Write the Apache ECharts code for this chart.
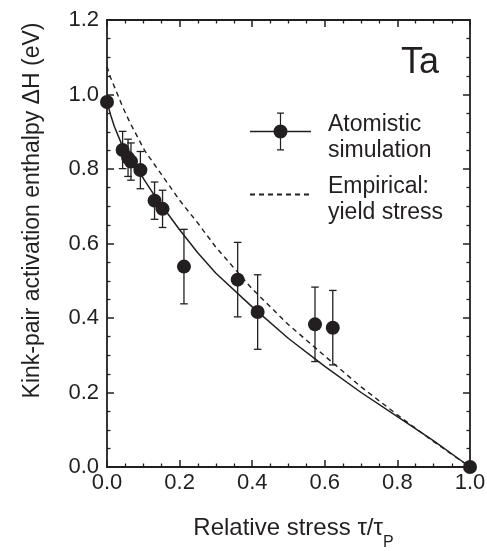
<!DOCTYPE html>
<html>
<head>
<meta charset="utf-8">
<script src="https://cdn.jsdelivr.net/npm/echarts@6/dist/echarts.min.js"></script>
<style>
html,body{margin:0;padding:0;background:#fff;}
#c{width:487px;height:551px;}
</style>
</head>
<body>
<div id="c"></div>
<script>
// ---- data ----
const simX   = [0, 0.043, 0.058, 0.066, 0.092, 0.131, 0.153, 0.212, 0.36, 0.415, 0.573, 0.622, 1.0];
const simY   = [0.98, 0.851, 0.83, 0.82, 0.797, 0.715, 0.693, 0.538, 0.503, 0.416, 0.383, 0.374, 0.0];
const simErr = [0, 0.05, 0.05, 0.05, 0.05, 0.05, 0.05, 0.1, 0.1, 0.1, 0.1, 0.1, 0];

const fitX = [0, 0.01, 0.02, 0.043, 0.07, 0.1, 0.13, 0.16, 0.2, 0.25, 0.3, 0.4, 0.5, 0.6, 0.7, 0.8, 0.9, 1.0];
const fitY = [0.98, 0.945, 0.915, 0.86, 0.815, 0.775, 0.73, 0.69, 0.637, 0.575, 0.52, 0.43, 0.345, 0.27, 0.2, 0.135, 0.07, 0];

const empX = [0, 0.01, 0.044, 0.063, 0.104, 0.159, 0.2, 0.25, 0.3, 0.4, 0.5, 0.6, 0.7, 0.8, 0.9, 1.0];
const empY = [1.075, 1.045, 0.965, 0.925, 0.849, 0.773, 0.716, 0.655, 0.59, 0.478, 0.382, 0.298, 0.215, 0.14, 0.068, 0];

const xTicks = [0, 0.2, 0.4, 0.6, 0.8, 1.0];
const yTicks = [0, 0.2, 0.4, 0.6, 0.8, 1.0, 1.2];

const seriesNames = ['Atomistic simulation', 'Empirical: yield stress'];
const legendLabels = ['{g1| }\n{t|Atomistic}\n{t|simulation}', '{g2| }\n{t|Empirical:}\n{t|yield stress}'];

// ---- chart ----
const INK = '#231f20';
const FONT = '"Liberation Sans", Arial, Helvetica, sans-serif';
const chart = echarts.init(document.getElementById('c'), null, {renderer: 'canvas'});

const pts = simX.map((x, i) => [x, simY[i]]);
const errs = simX.map((x, i) => [x, simY[i] - simErr[i], simY[i] + simErr[i], simErr[i]]).filter(d => d[3] > 0);
const fit = fitX.map((x, i) => [x, fitY[i]]);
const emp = empX.map((x, i) => [x, empY[i]]);

const axisLine = {show: true, onZero: false, lineStyle: {color: INK, width: 1.8}};
const axisTick = {show: true, inside: true, length: 7, lineStyle: {color: INK, width: 1.5}};
const minorTick = {show: true, splitNumber: 4, length: 3.5, lineStyle: {color: INK, width: 1.3}};
const labelStyle = {color: INK, fontSize: 22, fontFamily: FONT};

const legendIconSim = 'path://M0,18.25 H61 V19.75 H0 Z M29.9,0 H31.1 V38 H29.9 Z M27,0 H34 V1.2 H27 Z M27,36.8 H34 V38 H27 Z M37.5,19 A7,7 0 1,1 23.5,19 A7,7 0 1,1 37.5,19 Z';

chart.setOption({
  animation: false,
  backgroundColor: '#fff',
  grid: {left: 107, right: 17, top: 20, bottom: 84, containLabel: false, outerBoundsMode: 'none'},
  xAxis: [{
    type: 'value', min: 0, max: 1, interval: 0.2, position: 'bottom',
    axisLine, axisTick, minorTick, splitLine: {show: false},
    axisLabel: {...labelStyle, margin: 5, formatter: v => xTicks.includes(+v.toFixed(1)) ? v.toFixed(1) : ''},
    name: '{m|Relative stress \u03c4/\u03c4}{s|P}',
    nameLocation: 'middle', nameGap: 39,
    nameTextStyle: {color: INK, fontSize: 24, fontFamily: FONT, padding: [0, 0, 0, 10],
      rich: {
        m: {fontSize: 24, fontFamily: FONT, color: INK},
        s: {fontSize: 16, fontFamily: FONT, color: INK, padding: [29, 0, 0, 0]}
      }}
  }, {
    type: 'value', min: 0, max: 1, interval: 0.2, position: 'top',
    axisLine, axisTick, minorTick, splitLine: {show: false}, axisLabel: {show: false}
  }],
  yAxis: [{
    type: 'value', min: 0, max: 1.2, interval: 0.2, position: 'left',
    axisLine, axisTick, minorTick, splitLine: {show: false},
    axisLabel: {...labelStyle, margin: 8, formatter: v => yTicks.includes(+v.toFixed(1)) ? v.toFixed(1) : ''},
    name: 'Kink-pair activation enthalpy \u0394H (eV)',
    nameLocation: 'middle', nameGap: 63, nameRotate: 90,
    nameTextStyle: {color: INK, fontSize: 23, fontFamily: FONT, padding: [0, 0, 0, 66]}
  }, {
    type: 'value', min: 0, max: 1.2, interval: 0.2, position: 'right',
    axisLine, axisTick, minorTick, splitLine: {show: false}, axisLabel: {show: false}
  }],
  legend: {
    orient: 'vertical', left: 249, top: 103.5, padding: 0, itemGap: 3.9,
    itemWidth: 61, itemHeight: 38, selectedMode: false,
    formatter: n => legendLabels[seriesNames.indexOf(n)],
    textStyle: {
      color: INK, fontSize: 23, fontFamily: FONT, padding: [0, 0, 0, 12],
      rich: {
        g1: {fontSize: 4, lineHeight: 13},
        g2: {fontSize: 4, lineHeight: 11},
        t: {fontSize: 23, fontFamily: FONT, color: INK, lineHeight: 26}
      }
    },
    data: [
      {name: seriesNames[0], icon: legendIconSim, itemStyle: {color: INK}},
      {name: seriesNames[1], itemStyle: {opacity: 0}}
    ]
  },
  graphic: [{
    type: 'text', left: 401, top: 45,
    style: {text: 'Ta', fontSize: 36, fontFamily: FONT, fill: INK}
  }],
  series: [
    {
      name: 'fit', type: 'line', data: fit, smooth: false,
      showSymbol: false, symbol: 'none', lineStyle: {color: INK, width: 1.5}, z: 2
    },
    {
      name: seriesNames[1], type: 'line', data: emp, smooth: false,
      symbol: 'none', showSymbol: false, itemStyle: {color: INK},
      lineStyle: {color: INK, width: 1.4, type: [5, 4]}, z: 2
    },
    {
      name: 'err', type: 'custom', data: errs, clip: false, z: 3,
      encode: {x: 0, y: [1, 2]},
      renderItem: (params, api) => {
        const x = api.value(0);
        const lo = api.coord([x, api.value(1)]);
        const hi = api.coord([x, api.value(2)]);
        const hw = 3.8;
        const st = {stroke: INK, lineWidth: 1.3};
        return {type: 'group', children: [
          {type: 'line', shape: {x1: hi[0], y1: hi[1], x2: lo[0], y2: lo[1]}, style: st},
          {type: 'line', shape: {x1: hi[0] - hw, y1: hi[1], x2: hi[0] + hw, y2: hi[1]}, style: st},
          {type: 'line', shape: {x1: lo[0] - hw, y1: lo[1], x2: lo[0] + hw, y2: lo[1]}, style: st}
        ]};
      }
    },
    {
      name: seriesNames[0], type: 'scatter', data: pts, symbol: 'circle', symbolSize: 14,
      clip: false, itemStyle: {color: INK, opacity: 1}, z: 4
    }
  ]
});
</script>
</body>
</html>
